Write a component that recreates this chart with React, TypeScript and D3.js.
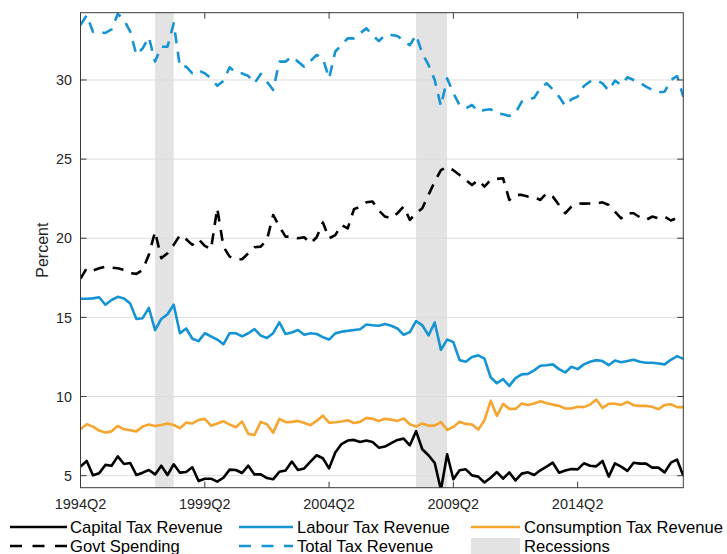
import React from "react";
import * as d3 from "d3";

const START_YEAR = 1994;
const START_Q = 2;
const N = 98;
const quarters: string[] = Array.from({ length: N }, (_, i) => {
  const k = START_Q - 1 + i;
  return `${START_YEAR + Math.floor(k / 4)}Q${(k % 4) + 1}`;
});

const xTickLabels = ["1994Q2", "1999Q2", "2004Q2", "2009Q2", "2014Q2"];
const yTicks = [5, 10, 15, 20, 25, 30];

const recessions = [
  { start: "1997Q2", end: "1998Q1" },
  { start: "2007Q4", end: "2009Q1" },
];

const capitalTax = [
  5.57, 5.93, 5.02, 5.15, 5.68, 5.63, 6.22, 5.74, 5.8, 5.04,
  5.19, 5.36, 5.08, 5.63, 5.04, 5.72, 5.19, 5.23, 5.53, 4.66,
  4.81, 4.81, 4.62, 4.87, 5.38, 5.36, 5.17, 5.63, 5.08, 5.08,
  4.85, 4.77, 5.25, 5.33, 5.89, 5.36, 5.46, 5.89, 6.29, 6.1,
  5.46, 6.46, 7.0, 7.22, 7.26, 7.13, 7.22, 7.13, 6.77, 6.84,
  7.05, 7.26, 7.34, 6.92, 7.81, 6.67, 6.29, 5.8, 4.1, 6.35,
  4.77, 5.34, 5.4, 5.02, 4.94, 4.57, 4.87, 5.23, 4.81, 5.21,
  4.7, 5.13, 5.21, 5.04, 5.34, 5.57, 5.82, 5.19, 5.32, 5.42,
  5.4, 5.78, 5.63, 5.59, 5.93, 4.94, 5.78, 5.57, 5.3, 5.82,
  5.76, 5.76, 5.51, 5.51, 5.21, 5.82, 6.01, 5.0,
];

const labourTax = [
  16.18, 16.18, 16.2, 16.27, 15.8, 16.1, 16.3, 16.2, 15.87, 14.9,
  14.95, 15.6, 14.2, 14.9, 15.2, 15.8, 14.0, 14.3, 13.65, 13.5,
  14.0, 13.8, 13.6, 13.3, 14.0, 14.0, 13.8, 14.0, 14.26, 13.85,
  13.7, 14.0, 14.68, 13.95, 14.05, 14.2, 13.9, 14.0, 13.95, 13.75,
  13.6, 13.99, 14.1, 14.15, 14.2, 14.25, 14.55, 14.5, 14.47, 14.58,
  14.47, 14.3, 13.9, 14.07, 14.77, 14.5, 13.86, 14.68, 12.95, 13.6,
  13.44, 12.3, 12.2, 12.5, 12.6, 12.4, 11.22, 10.84, 11.1, 10.67,
  11.16, 11.4, 11.43, 11.65, 11.94, 11.98, 12.03, 11.73, 11.52, 11.88,
  11.73, 12.03, 12.2, 12.3, 12.24, 11.98, 12.28, 12.17, 12.24, 12.32,
  12.2, 12.13, 12.13, 12.09, 12.03, 12.32, 12.55, 12.38,
];

const consumptionTax = [
  7.93, 8.25, 8.1, 7.85, 7.72, 7.8, 8.14, 7.93, 7.87, 7.8,
  8.1, 8.23, 8.14, 8.2, 8.3, 8.2, 8.0, 8.35, 8.3, 8.52,
  8.59, 8.16, 8.3, 8.44, 8.23, 8.06, 8.42, 7.64, 7.57, 8.4,
  8.25, 7.72, 8.59, 8.38, 8.4, 8.46, 8.33, 8.19, 8.46, 8.8,
  8.35, 8.38, 8.42, 8.5, 8.33, 8.4, 8.65, 8.59, 8.46, 8.59,
  8.54, 8.46, 8.61, 8.25, 8.1, 8.3, 8.16, 8.16, 8.38, 7.89,
  8.08, 8.4, 8.27, 8.23, 7.91, 8.5, 9.73, 8.78, 9.54, 9.22,
  9.22, 9.56, 9.47, 9.56, 9.7, 9.58, 9.49, 9.41, 9.24, 9.24,
  9.35, 9.33, 9.49, 9.81, 9.28, 9.54, 9.54, 9.47, 9.66, 9.45,
  9.41, 9.41, 9.35, 9.2, 9.47, 9.51, 9.33, 9.33,
];

const govtSpending = [
  17.45, 18.1, 17.96, 18.1, 18.2, 18.15, 18.1, 18.0, 17.8, 17.75,
  18.0, 18.95, 20.42, 18.74, 19.05, 19.58, 20.2, 19.94, 19.58, 19.94,
  19.52, 19.3, 21.9, 19.47, 18.84, 18.67, 18.67, 19.05, 19.43, 19.47,
  19.9, 21.47, 20.74, 20.1, 20.1, 20.0, 20.06, 19.68, 20.06, 21.0,
  20.0, 20.2, 20.84, 20.63, 21.83, 22.0, 22.27, 22.32, 21.75, 21.37,
  21.26, 21.58, 22.0, 21.16, 21.58, 21.9, 22.74, 23.58, 24.3, 24.5,
  24.3, 24.0, 23.68, 23.37, 23.68, 23.26, 23.68, 23.75, 23.79, 22.42,
  22.74, 22.74, 22.63, 22.6, 22.42, 22.84, 22.63, 22.1, 21.58, 22.0,
  22.2, 22.19, 22.2, 22.2, 22.27, 22.1, 21.68, 21.26, 21.58, 21.58,
  21.33, 21.16, 21.37, 21.26, 21.37, 21.12, 21.28, 21.2,
];

const totalTax = [
  33.47, 34.1, 33.05, 32.99, 32.97, 33.2, 34.17, 33.8, 33.05, 31.58,
  32.0, 32.7, 31.16, 32.1, 32.1, 33.58, 30.84, 30.84, 30.42, 30.6,
  30.42, 30.1, 29.64, 29.94, 30.8, 30.46, 30.42, 30.25, 29.79, 30.38,
  29.9, 29.37, 31.16, 31.16, 31.47, 31.16, 30.84, 31.2, 31.58, 31.37,
  30.1, 31.8, 32.2, 32.63, 32.63, 32.95, 33.26, 32.84, 32.45, 32.84,
  32.84, 32.78, 32.48, 32.2, 32.84, 31.68, 30.95, 30.0, 28.35, 30.1,
  29.16, 28.42, 28.2, 28.42, 28.0, 28.1, 28.15, 27.9, 27.83, 27.73,
  27.9, 28.63, 28.74, 28.88, 29.47, 29.79, 29.41, 28.95, 28.36, 28.78,
  28.95, 29.62, 29.9, 30.0, 29.79, 29.33, 29.96, 29.68, 30.17, 30.0,
  29.83, 29.58, 29.37, 29.22, 29.26, 30.0, 30.25, 28.95,
];

const BLUE = "#1593d3";
const ORANGE = "#f5a530";
const BLACK = "#000000";
const SHADE = "#e3e3e3";

const series = [
  { name: "Capital Tax Revenue", values: capitalTax, color: BLACK, dashed: false },
  { name: "Labour Tax Revenue", values: labourTax, color: BLUE, dashed: false },
  { name: "Consumption Tax Revenue", values: consumptionTax, color: ORANGE, dashed: false },
  { name: "Govt Spending", values: govtSpending, color: BLACK, dashed: true },
  { name: "Total Tax Revenue", values: totalTax, color: BLUE, dashed: true },
];

const W = 727;
const H = 554;
const L = 80.5, R = 683.3, T = 12.7, B = 487.7;
const FONT = "'Liberation Sans', Arial, Helvetica, sans-serif";
const DASH = "11,8.5";

export default function App() {
  const x = d3.scaleLinear().domain([0, N - 1]).range([L, R]);
  const y = d3.scaleLinear().domain([4.24, 34.25]).range([B, T]);
  const line = d3
    .line<number>()
    .x((_, i) => x(i))
    .y((d) => y(d));

  const legendItems = [
    { name: "Capital Tax Revenue", kind: "line", color: BLACK, dashed: false, col: 0, row: 0 },
    { name: "Labour Tax Revenue", kind: "line", color: BLUE, dashed: false, col: 1, row: 0 },
    { name: "Consumption Tax Revenue", kind: "line", color: ORANGE, dashed: false, col: 2, row: 0 },
    { name: "Govt Spending", kind: "line", color: BLACK, dashed: true, col: 0, row: 1 },
    { name: "Total Tax Revenue", kind: "line", color: BLUE, dashed: true, col: 1, row: 1 },
    { name: "Recessions", kind: "rect", color: SHADE, dashed: false, col: 2, row: 1 },
  ];
  const colX = [
    { x0: 10, x1: 67, tx: 70 },
    { x0: 239, x1: 293, tx: 297 },
    { x0: 471, x1: 520, tx: 524 },
  ];
  const rowY = [527, 546];

  return (
    <svg width={W} height={H} style={{ position: "absolute", left: 0, top: 0, background: "#fff" }} fontFamily={FONT}>
      <defs>
        <clipPath id="plotclip">
          <rect x={L} y={T} width={R - L} height={B - T} />
        </clipPath>
      </defs>
      <rect x={0} y={0} width={W} height={H} fill="#fff" />
      {recessions.map((r, k) => (
        <rect
          key={k}
          x={x(quarters.indexOf(r.start))}
          y={T}
          width={x(quarters.indexOf(r.end)) - x(quarters.indexOf(r.start))}
          height={B - T}
          fill={SHADE}
        />
      ))}
      {yTicks.map((t) => (
        <line key={t} x1={L} x2={R} y1={y(t)} y2={y(t)} stroke="#dcdcdc" strokeWidth={1} />
      ))}
      <g clipPath="url(#plotclip)">
        {series.map((s) => (
          <path
            key={s.name}
            d={line(s.values) || ""}
            fill="none"
            stroke={s.color}
            strokeWidth={2.6}
            strokeDasharray={s.dashed ? DASH : undefined}
            strokeLinejoin="round"
          />
        ))}
      </g>
      <rect x={L} y={T} width={R - L} height={B - T} fill="none" stroke="#3a3a3a" strokeWidth={1} />
      {yTicks.map((t) => (
        <g key={t}>
          <line x1={L} x2={L + 6} y1={y(t)} y2={y(t)} stroke="#3a3a3a" />
          <line x1={R} x2={R - 6} y1={y(t)} y2={y(t)} stroke="#3a3a3a" />
          <text x={L - 8.5} y={y(t)} dy="0.36em" textAnchor="end" fontSize={14.3} fill="#262626">
            {t}
          </text>
        </g>
      ))}
      {xTickLabels.map((lab) => {
        const xp = x(quarters.indexOf(lab));
        return (
          <g key={lab}>
            <line x1={xp} x2={xp} y1={B} y2={B - 6} stroke="#3a3a3a" />
            <line x1={xp} x2={xp} y1={T} y2={T + 6} stroke="#3a3a3a" />
            <text x={xp} y={509} textAnchor="middle" fontSize={14.5} fill="#262626">
              {lab}
            </text>
          </g>
        );
      })}
      <text
        transform={`translate(48,${(T + B) / 2}) rotate(-90)`}
        textAnchor="middle"
        fontSize={16}
        fill="#262626"
      >
        Percent
      </text>
      {legendItems.map((it) => {
        const c = colX[it.col];
        const ry = rowY[it.row];
        return (
          <g key={it.name}>
            {it.kind === "rect" ? (
              <rect x={c.x0} y={ry - 8} width={c.x1 - c.x0} height={16} fill={it.color} />
            ) : (
              <line
                x1={c.x0}
                x2={c.x1}
                y1={ry}
                y2={ry}
                stroke={it.color}
                strokeWidth={2.6}
                strokeDasharray={it.dashed ? "12,10.5" : undefined}
              />
            )}
            <text x={c.tx} y={ry} dy="0.36em" fontSize={16.6} fill="#000">
              {it.name}
            </text>
          </g>
        );
      })}
    </svg>
  );
}
